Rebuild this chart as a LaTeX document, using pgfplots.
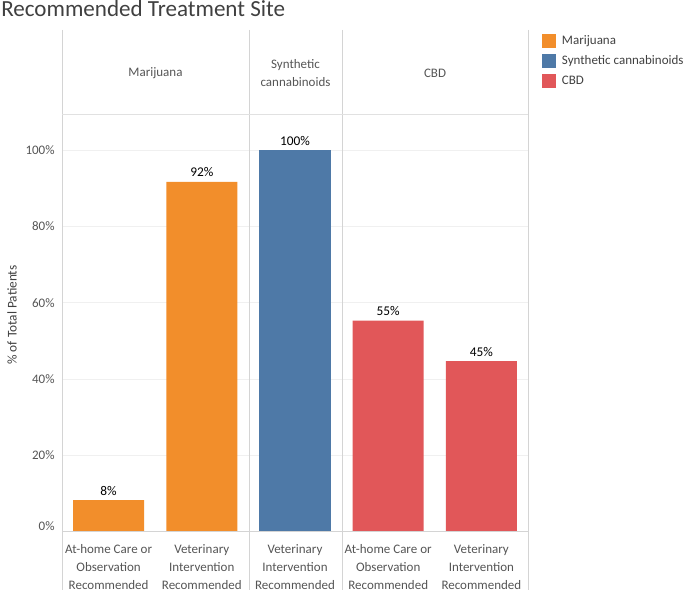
\documentclass[border=0pt]{standalone}
\usepackage{pgfplots}
\pgfplotsset{compat=1.18}
\usepackage{fontspec}
\setmainfont{Carlito}
\definecolor{orangeT}{HTML}{F28E2B}
\definecolor{blueT}{HTML}{4E79A7}
\definecolor{redT}{HTML}{E15759}
\definecolor{sepgray}{HTML}{D4D4D4}
\definecolor{gridgray}{HTML}{F0F0F0}
\definecolor{ticktext}{HTML}{555555}
\definecolor{titletext}{HTML}{404040}
\begin{document}
\begin{tikzpicture}[x=0.75pt,y=0.75pt]
\path[use as bounding box] (0,0) rectangle (685,595);
\begin{axis}[
  at={(46.5pt,47.475pt)}, anchor=south west, scale only axis,
  width=349.5pt, height=312.525pt,
  xmin=-0.5, xmax=4.5, ymin=0, ymax=109.2,
  ybar, bar width=53.25pt,
  axis line style={draw=none}, tick style={draw=none},
  ytick={0,20,...,100},
  yticklabels={\raisebox{8.5pt}{0\%},20\%,40\%,60\%,80\%,100\%},
  yticklabel style={font=\fontsize{9.75}{12}\selectfont, text=ticktext, xshift=-2pt},
  ymajorgrids, grid style={gridgray, line width=0.75pt},
  xtick={0,1,2,3,4},
  xticklabels={{At-home Care or\\Observation\\Recommended},
               {Veterinary\\Intervention\\Recommended},
               {Veterinary\\Intervention\\Recommended},
               {At-home Care or\\Observation\\Recommended},
               {Veterinary\\Intervention\\Recommended}},
  xticklabel style={align=center, font=\fontsize{9.75}{13.5}\selectfont, text=ticktext, yshift=-2pt},
  /pgf/number format/assume math mode=true,
  nodes near coords={\pgfmathprintnumber[fixed,precision=0]{\pgfplotspointmeta}\%},
  every node near coord/.append style={font=\fontsize{10}{12}\selectfont, text=black},
  legend image code/.code={\path[#1, draw=none] (0pt,-5.25pt) rectangle (10.5pt,5.25pt);},
  legend style={at={(axis description cs:1.030,1.1944)}, anchor=north west,
    draw=none, fill=none, inner sep=0pt, outer sep=0pt,
    font=\fontsize{9.75}{12}\selectfont, text=titletext,
    row sep=4.5pt, column sep=0pt,
    nodes={inner sep=0pt, text height=7.5pt, text depth=2.5pt},
    /tikz/every odd column/.append style={column sep=4.5pt}},
  legend cell align=left,
  clip=false,
]
\addplot[fill=orangeT, draw=none, bar shift=0pt] coordinates {(0,8.3) (1,91.7)};
\addlegendentry{Marijuana}
\addplot[fill=blueT, draw=none, bar shift=0pt] coordinates {(2,100)};
\addlegendentry{Synthetic cannabinoids}
\addplot[fill=redT, draw=none, bar shift=0pt] coordinates {(3,55.3) (4,44.7)};
\addlegendentry{CBD}
\end{axis}
% frame lines
\draw[sepgray, line width=0.75pt] (62,565) -- (62,5);
\draw[sepgray, line width=0.75pt] (249,565) -- (249,5);
\draw[sepgray, line width=0.75pt] (342,565) -- (342,5);
\draw[sepgray, line width=0.75pt] (528,565) -- (528,5);
\draw[sepgray!70, line width=0.75pt] (62,480) -- (528,480);
\draw[sepgray, line width=0.75pt] (62,63.3) -- (528,63.3);
% header
\node[font=\fontsize{9.75}{13.5}\selectfont, text=ticktext] at (155.5,522) {Marijuana};
\node[font=\fontsize{9.75}{13.5}\selectfont, text=ticktext, align=center] at (295.5,522) {Synthetic\\cannabinoids};
\node[font=\fontsize{9.75}{13.5}\selectfont, text=ticktext] at (435,522) {CBD};
% title and y label
\node[anchor=base west, inner sep=0pt, font=\fontsize{17.3}{20}\selectfont, text=titletext] at (1,578) {Recommended Treatment Site};
\node[rotate=90, font=\fontsize{10}{12}\selectfont, text=titletext] at (12,280) {\% of Total Patients};
\end{tikzpicture}
\end{document}
